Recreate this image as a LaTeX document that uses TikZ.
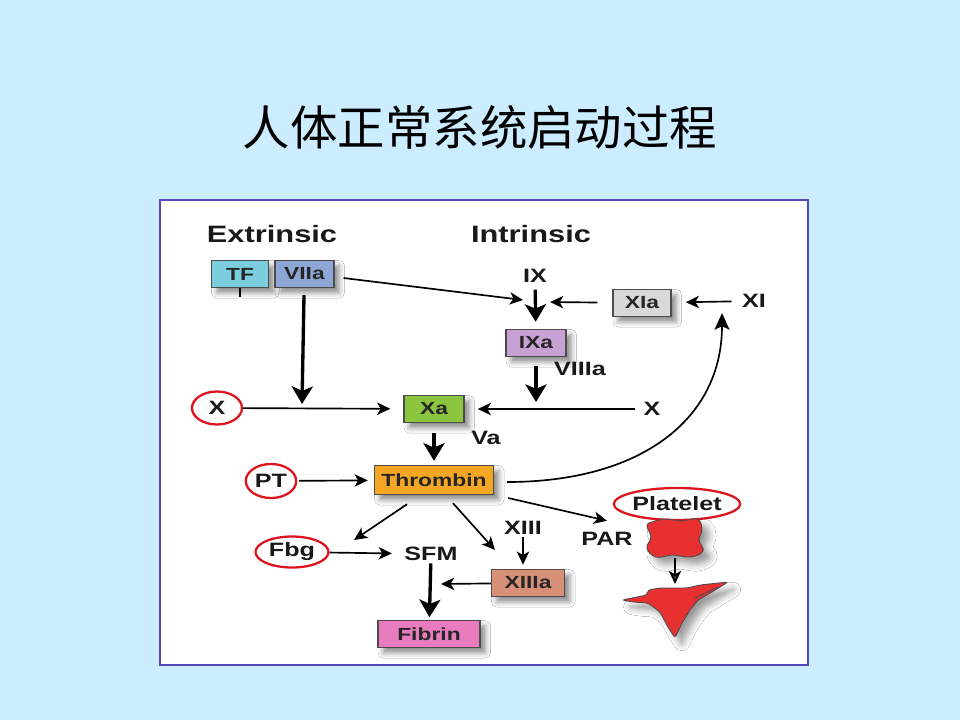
\documentclass[tikz,border=0pt]{standalone}
\usepackage{fontspec}
\newfontfamily\diagfont{Liberation Sans}[FakeStretch=1.3]
\newfontfamily\cjk{Noto Sans CJK SC}
\usetikzlibrary{arrows.meta,positioning,shapes.geometric,shadows.blur}

\definecolor{slidebg}{RGB}{204,236,255}
\definecolor{panelline}{RGB}{84,72,184}
\definecolor{tfcyan}{RGB}{122,206,222}
\definecolor{viiablue}{RGB}{142,166,214}
\definecolor{xiagray}{RGB}{216,216,216}
\definecolor{ixalilac}{RGB}{200,160,212}
\definecolor{xagreen}{RGB}{140,198,63}
\definecolor{thrombinorange}{RGB}{244,166,36}
\definecolor{xiiiasalmon}{RGB}{216,144,120}
\definecolor{fibrinpink}{RGB}{232,124,190}
\definecolor{ringred}{RGB}{222,20,30}
\definecolor{plateletred}{RGB}{232,48,48}

\begin{document}
\begin{tikzpicture}[->, >={Stealth[length=7.5pt,width=7pt,inset=2pt]}, x=0.02cm, y=-0.02cm, line width=0.95pt, node distance=0.1cm]
\tikzstyle{factor}=[draw=black!70, line width=0.8pt, minimum height=0.54cm, inner sep=1pt, text=black!85, font=\diagfont\bfseries\fontsize{10}{12}\selectfont, blur shadow={shadow xshift=3pt, shadow yshift=-3pt, shadow blur radius=3pt, shadow opacity=45}]
\tikzstyle{lbl}=[inner sep=1pt, text=black!90, font=\diagfont\bfseries\fontsize{11}{13}\selectfont]
\tikzstyle{head}=[lbl, font=\diagfont\bfseries\fontsize{13.5}{16}\selectfont]
\tikzstyle{ring}=[ellipse, draw=ringred, line width=1.3pt]
\tikzstyle{heavy}=[line width=1.9pt, -{Stealth[length=10pt,width=12pt,inset=2.5pt]}]
\tikzstyle{cell}=[-, fill=plateletred, draw=black!70, line width=0.5pt, blur shadow={shadow xshift=4pt, shadow yshift=-4pt, shadow blur radius=4pt, shadow opacity=40}]

% slide and panel
\fill[slidebg] (0,0) rectangle (960,720);
\draw[-, panelline, fill=white, line width=0.9pt] (160,200) rectangle (808,665);
\node (title) at (480,127) {\cjk\fontsize{27}{32}\selectfont 人体正常系统启动过程};

% pathways
\node[head] (ext) at (272,234) {Extrinsic};
\node[head] (int) at (531,234) {Intrinsic};

\node[factor, fill=tfcyan, minimum width=1.14cm] (tf) at (240,274) {TF};
\node[factor, fill=viiablue, minimum width=1.18cm, right=of tf] (viia) {VIIa};
\node[lbl] (ix) at (535,276) {IX};
\node[factor, fill=xiagray, minimum width=1.16cm] (xia) at (642,303) {XIa};
\node[lbl] (xi) at (754,301) {XI};
\node[factor, fill=ixalilac, minimum width=1.2cm] (ixa) at (536,343) {IXa};
\node[lbl] (viiia) at (580,369) {VIIIa};
\node[factor, fill=xagreen, minimum width=1.2cm] (xa) at (434,409) {Xa};
\node[lbl, ring, minimum width=1cm, minimum height=0.66cm] (xl) at (217,408) {X};
\node[lbl] (xr) at (652,409) {X};
\node[lbl] (va) at (486,438) {Va};
\node[factor, fill=thrombinorange, minimum width=2.38cm, minimum height=0.58cm] (thr) at (434,480) {Thrombin};
\node[lbl, ring, minimum width=1cm, minimum height=0.68cm] (pt) at (271,481) {PT};
\node[lbl, ring, minimum width=2.3cm, minimum height=0.64cm, inner xsep=0pt] (plt) at (677,504) {Platelet};
\node[lbl] (par) at (607,539) {PAR};
\node[lbl] (xiii) at (523,528) {XIII};
\node[factor, fill=xiiiasalmon, minimum width=1.46cm] (xiiia) at (528,583) {XIIIa};
\node[lbl, ring, minimum width=1.46cm, minimum height=0.62cm] (fbg) at (292,552) {Fbg};
\node[lbl] (sfm) at (431,554) {SFM};
\node[factor, fill=fibrinpink, minimum width=2.04cm] (fib) at (429,634) {Fibrin};

% free ends
\coordinate (ixjoin) at (523,300);
\coordinate (ixright) at (550,302);
\coordinate (xajoin) at (536,402);
\coordinate (xleft) at (302,404);
\coordinate (xiin) at (722,313);
\coordinate (sfmleft) at (354,540);
\coordinate (xiiiaup) at (495,550);
\coordinate (sfmtrunk) at (441,584);
\coordinate (blobbottom) at (675,558);
\coordinate (activetop) at (675,584);

\draw[-] (tf.south) -- ++(0,9);
\draw ([shift={(9,4)}]viia.east) -- (ixjoin);
\draw[heavy, shorten <=2.5pt, shorten >=4pt] (ix) -- (ixa);
\draw[shorten <=8.5pt] (xia) -- (ixright);
\draw[shorten <=4.5pt, shorten >=8pt] (xi) -- (xia);
\draw[heavy, shorten <=4.8pt] (ixa) -- (xajoin);
\draw[shorten <=3.5pt, shorten >=7.4pt] (xr) -- (xa);
\draw[shorten >=7.4pt] (xl) -- (xa);
\draw[heavy, shorten <=4pt] (viia) -- (xleft);
\draw[heavy, shorten <=5.7pt, shorten >=2.3pt] (xa) -- (thr);
\draw[shorten <=1pt, shorten >=3.4pt] (pt) -- (thr);
\draw[-{Stealth[length=9.5pt,width=8.5pt,inset=2pt]}] ([shift={(13,2)}]thr.east) .. controls (640,482) and (722,420) .. (xiin);
\draw ([shift={(14,18)}]thr.east) -- ([yshift=0.18cm]par.north);
\draw ([shift={(-27,9)}]thr.south) -- (sfmleft);
\draw ([shift={(19,8)}]thr.south) -- (xiiiaup);
\draw[shorten >=2.3pt] (xiii) -- (xiii |- xiiia.north);
\draw[shorten >=5.7pt] (fbg) -- (sfm);
\draw (xiiia) -- (sfmtrunk);
\draw[heavy, shorten >=1.5pt] (sfm) -- (fib);

% platelet
\filldraw[cell] plot[smooth cycle, tension=0.7] coordinates {(652,522) (666,519) (681,521) (697,519) (702,529) (699,540) (703,551) (690,557) (673,555) (656,557) (647,548) (651,537) (647,526)};
\draw (blobbottom) -- (activetop);
\filldraw[cell, rounded corners=1.5pt]
  (622,600) -- (647,595) -- (648,590) -- (660,588) -- (687,588) -- (700,585) -- (728,582) -- (707,595) -- (698,600) -- (690,610) -- (682,623) -- (675,638) -- (668,627) -- (660,612) -- (648,603) -- (633,602) -- cycle;
\draw[-, black!70, line width=0.5pt] (695,598) -- (718,587);
\end{tikzpicture}
\end{document}
